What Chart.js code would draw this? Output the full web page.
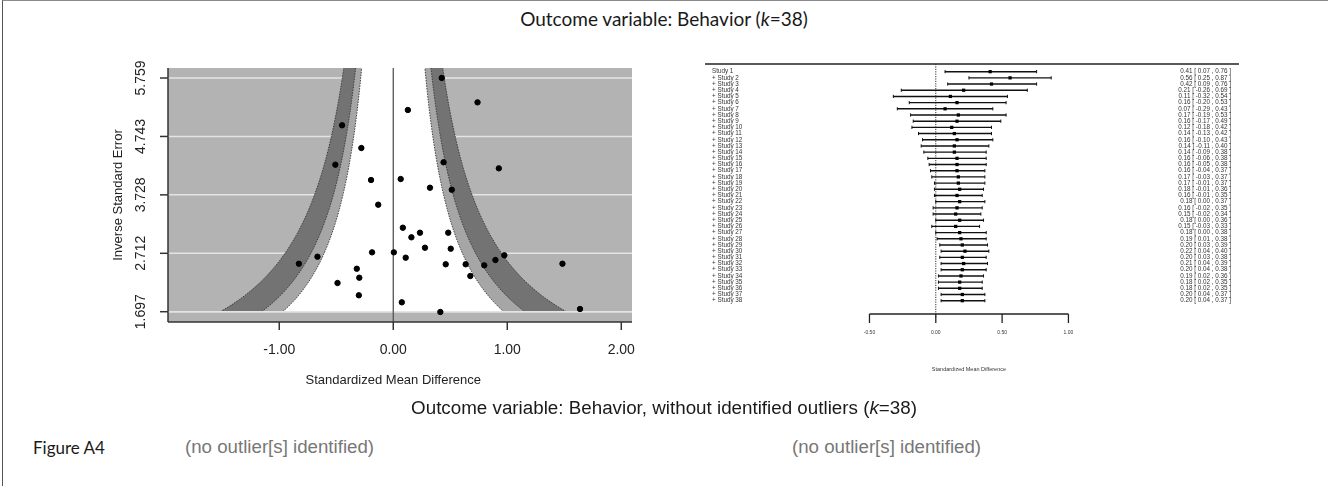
<!DOCTYPE html>
<html>
<head>
<meta charset="utf-8">
<script src="https://cdn.jsdelivr.net/npm/chart.js@4.4.1/dist/chart.umd.min.js"></script>
<style>
  html, body { margin: 0; padding: 0; background: #fff; }
  body { width: 1328px; height: 486px; position: relative; overflow: hidden; }
  .frame { position: absolute; left: 2px; top: 0; width: 1326px; height: 486px;
           border-top: 1px solid #8a8a8a; border-left: 1px solid #555; box-sizing: border-box; }
  .txt { position: absolute; white-space: nowrap; }
  #funnel { position: absolute; left: 0; top: 0; }
  #forest { position: absolute; left: 690px; top: 50px; }
</style>
</head>
<body>
<div class="frame"></div>
<div class="txt" style="left:664px; top:18px; transform:translate(-50%,-50%); font-family:Lato; font-size:19px; color:#1a1a1a;">Outcome variable: Behavior (<i>k</i>=38)</div>
<canvas id="funnel" width="680" height="400"></canvas>
<canvas id="forest" width="570" height="340"></canvas>
<div class="txt" style="left:664px; top:408px; transform:translate(-50%,-50%); font-family:'Liberation Sans'; font-size:18.8px; color:#1a1a1a;">Outcome variable: Behavior, without identified outliers (<i>k</i>=38)</div>
<div class="txt" style="left:33px; top:447px; transform:translateY(-50%); font-family:Lato; font-size:17px; color:#1a1a1a;">Figure A4</div>
<div class="txt" style="left:185px; top:447px; transform:translateY(-50%); font-family:'Liberation Sans'; font-size:18.7px; color:#777;">(no outlier[s] identified)</div>
<div class="txt" style="left:792px; top:447px; transform:translateY(-50%); font-family:'Liberation Sans'; font-size:18.7px; color:#777;">(no outlier[s] identified)</div>

<script>
// funnel plot data (standardized mean difference vs inverse standard error)
var funnelSMD = [0.425, 0.739, 0.128, -0.449, -0.280, -0.508, 0.441, 0.926, -0.195, 0.065,
                 0.322, 0.513, -0.132, 0.084, 0.234, 0.159, 0.482, 0.278, 0.504, -0.186,
                 0.005, 0.109, -0.665, -0.828, 0.460, 0.635, 0.798, 0.896, 0.974, 1.484,
                 -0.320, -0.298, -0.489, 0.676, -0.302, 0.075, 0.413, 1.638];
var funnelInvSE = [5.760, 5.336, 5.203, 4.937, 4.542, 4.252, 4.294, 4.189, 3.986, 4.003,
                   3.852, 3.817, 3.557, 3.157, 3.070, 2.990, 3.070, 2.809, 2.792, 2.729,
                   2.729, 2.636, 2.653, 2.531, 2.521, 2.521, 2.503, 2.596, 2.677, 2.531,
                   2.444, 2.288, 2.196, 2.318, 1.982, 1.860, 1.692, 1.744];
var funnelYTicks = [1.697, 2.712, 3.728, 4.743, 5.759];
var funnelXTicks = [-1, 0, 1, 2];
var funnelXLabels = ['-1.00', '0.00', '1.00', '2.00'];
var contourZ = [2.576, 1.96, 1.645];   // 99%, 95%, 90% contours

// cumulative forest plot
var forestEst = [0.41, 0.56, 0.42, 0.21, 0.11, 0.16, 0.07, 0.17, 0.16, 0.12,
                 0.14, 0.16, 0.14, 0.14, 0.16, 0.16, 0.16, 0.17, 0.17, 0.18,
                 0.16, 0.18, 0.16, 0.15, 0.18, 0.15, 0.18, 0.19, 0.20, 0.22,
                 0.20, 0.21, 0.20, 0.19, 0.18, 0.18, 0.20, 0.20];
var forestLo = [0.07, 0.25, 0.09, -0.26, -0.32, -0.20, -0.29, -0.19, -0.17, -0.18,
                -0.13, -0.10, -0.11, -0.09, -0.06, -0.05, -0.04, -0.03, -0.01, -0.01,
                -0.01, 0.00, -0.02, -0.02, 0.00, -0.03, 0.00, 0.01, 0.03, 0.04,
                0.03, 0.04, 0.04, 0.02, 0.02, 0.02, 0.04, 0.04];
var forestHi = [0.76, 0.87, 0.76, 0.69, 0.54, 0.53, 0.43, 0.53, 0.49, 0.42,
                0.42, 0.43, 0.40, 0.38, 0.38, 0.38, 0.37, 0.37, 0.37, 0.36,
                0.35, 0.37, 0.35, 0.34, 0.36, 0.33, 0.38, 0.38, 0.39, 0.40,
                0.38, 0.39, 0.38, 0.36, 0.35, 0.35, 0.37, 0.37];
var forestXTicks = [-0.5, 0, 0.5, 1];
var forestXLabels = ['-0.50', '0.00', '0.50', '1.00'];
var studyLabels = [];
for (var i = 0; i < forestEst.length; i++) {
  studyLabels.push(i === 0 ? 'Study 1' : '+ Study ' + (i + 1));
}

function line(ctx, x1, y1, x2, y2) {
  ctx.beginPath(); ctx.moveTo(x1, y1); ctx.lineTo(x2, y2); ctx.stroke();
}

var bandColors = ['#737373', '#a6a6a6', '#ffffff'];

var funnelPlugin = {
  id: 'funnelPlugin',
  beforeDatasetsDraw: function(chart) {
    var ctx = chart.ctx, a = chart.chartArea, x = chart.scales.x, y = chart.scales.y;
    ctx.save();
    ctx.fillStyle = '#b3b3b3';
    ctx.fillRect(a.left, a.top, a.width, a.height);
    ctx.strokeStyle = '#e4e4e4';
    ctx.lineWidth = 1.5;
    funnelYTicks.forEach(function(v) {
      var py = y.getPixelForValue(v);
      line(ctx, a.left, py, a.right, py);
    });
    ctx.beginPath(); ctx.rect(a.left, a.top, a.width, a.height); ctx.clip();
    var y0 = funnelYTicks[0], y1 = y.max, steps = 90;
    contourZ.forEach(function(z, k) {
      ctx.fillStyle = bandColors[k];
      ctx.beginPath();
      for (var s = 0; s <= steps; s++) {
        var v = y0 + (y1 - y0) * s / steps;
        ctx.lineTo(x.getPixelForValue(-z / v), y.getPixelForValue(v));
      }
      for (var s2 = steps; s2 >= 0; s2--) {
        var v2 = y0 + (y1 - y0) * s2 / steps;
        ctx.lineTo(x.getPixelForValue(z / v2), y.getPixelForValue(v2));
      }
      ctx.closePath();
      ctx.fill();
    });
    // contour edges
    ctx.strokeStyle = '#333';
    ctx.lineWidth = 0.9;
    ctx.setLineDash([1.5, 1.2]);
    contourZ.forEach(function(z) {
      [-1, 1].forEach(function(sg) {
        ctx.beginPath();
        for (var s = 0; s <= steps; s++) {
          var v = y0 + (y1 - y0) * s / steps;
          ctx.lineTo(x.getPixelForValue(sg * z / v), y.getPixelForValue(v));
        }
        ctx.stroke();
      });
    });
    ctx.setLineDash([]);
    ctx.strokeStyle = '#e4e4e4';
    ctx.lineWidth = 1.5;
    var pb = y.getPixelForValue(funnelYTicks[0]);
    line(ctx, a.left, pb, a.right, pb);
    // reference line
    ctx.strokeStyle = '#555';
    ctx.lineWidth = 1.3;
    var p0 = x.getPixelForValue(0);
    line(ctx, p0, a.top, p0, a.bottom);
    ctx.restore();
  },
  afterDraw: function(chart) {
    var ctx = chart.ctx, a = chart.chartArea, x = chart.scales.x, y = chart.scales.y;
    ctx.save();
    ctx.strokeStyle = '#333';
    ctx.lineWidth = 1.5;
    line(ctx, a.left, a.top, a.left, a.bottom);
    line(ctx, a.left, a.bottom, a.right, a.bottom);
    ctx.fillStyle = '#222';
    ctx.font = '14px "Liberation Sans"';
    ctx.textAlign = 'center';
    ctx.textBaseline = 'middle';
    funnelXTicks.forEach(function(v, k) {
      var px = x.getPixelForValue(v);
      line(ctx, px, a.bottom, px, a.bottom + 8);
      ctx.fillText(funnelXLabels[k], px, 350);
    });
    funnelYTicks.forEach(function(v) {
      var py = y.getPixelForValue(v);
      line(ctx, a.left, py, a.left - 8, py);
      ctx.save();
      ctx.translate(141, py);
      ctx.rotate(-Math.PI / 2);
      ctx.fillText(v.toFixed(3), 0, 0);
      ctx.restore();
    });
    ctx.font = '13px "Liberation Sans"';
    ctx.fillText('Standardized Mean Difference', x.getPixelForValue(0), 380);
    ctx.save();
    ctx.translate(118, (a.top + a.bottom) / 2);
    ctx.rotate(-Math.PI / 2);
    ctx.fillText('Inverse Standard Error', 0, 0);
    ctx.restore();
    ctx.restore();
  }
};

new Chart(document.getElementById('funnel'), {
  type: 'scatter',
  data: {
    datasets: [{
      data: funnelSMD.map(function(v, i) { return { x: v, y: funnelInvSE[i] }; }),
      backgroundColor: '#000',
      borderColor: '#000',
      pointRadius: 2.7,
      pointHoverRadius: 2.7
    }]
  },
  options: {
    responsive: false,
    animation: false,
    events: [],
    layout: { padding: { left: 168, top: 68, right: 48, bottom: 78 } },
    plugins: { legend: { display: false }, tooltip: { enabled: false } },
    scales: {
      x: { type: 'linear', display: false, min: -1.976, max: 2.094 },
      y: { type: 'linear', display: false, min: 1.518, max: 5.933 }
    }
  },
  plugins: [funnelPlugin]
});

var forestPlugin = {
  id: 'forestPlugin',
  beforeDatasetsDraw: function(chart) {
    var ctx = chart.ctx, a = chart.chartArea, x = chart.scales.x, y = chart.scales.y;
    ctx.save();
    ctx.strokeStyle = '#222';
    ctx.lineWidth = 1.6;
    line(ctx, a.left, a.top, a.right, a.top);
    // dotted null line
    ctx.lineWidth = 1;
    ctx.strokeStyle = '#333';
    ctx.setLineDash([1.2, 1.2]);
    var p0 = x.getPixelForValue(0);
    line(ctx, p0, a.top, p0, a.bottom + 4);
    ctx.setLineDash([]);
    // confidence intervals
    ctx.strokeStyle = '#111';
    ctx.lineWidth = 1.4;
    forestEst.forEach(function(v, i) {
      var py = y.getPixelForValue(i + 1);
      var pl = x.getPixelForValue(forestLo[i]), ph = x.getPixelForValue(forestHi[i]);
      line(ctx, pl, py, ph, py);
      ctx.lineWidth = 1;
      line(ctx, pl, py - 1.6, pl, py + 1.6);
      line(ctx, ph, py - 1.6, ph, py + 1.6);
      ctx.lineWidth = 1.4;
    });
    // axis
    ctx.lineWidth = 1.3;
    ctx.strokeStyle = '#222';
    var xl = x.getPixelForValue(forestXTicks[0]), xr = x.getPixelForValue(forestXTicks[forestXTicks.length - 1]);
    line(ctx, xl, a.bottom, xr, a.bottom);
    ctx.fillStyle = '#333';
    ctx.font = '5px "Liberation Sans"';
    ctx.textAlign = 'center';
    ctx.textBaseline = 'middle';
    forestXTicks.forEach(function(v, k) {
      var px = x.getPixelForValue(v);
      line(ctx, px, a.bottom, px, a.bottom + 9);
      ctx.fillText(forestXLabels[k], px, 283);
    });
    ctx.font = '5.5px "Liberation Sans"';
    ctx.fillText('Standardized Mean Difference', x.getPixelForValue(0.25), 319);
    // labels and numbers
    ctx.font = '6.3px "Liberation Sans"';
    ctx.fillStyle = '#333';
    forestEst.forEach(function(v, i) {
      var py = y.getPixelForValue(i + 1);
      ctx.textAlign = 'left';
      ctx.fillText(studyLabels[i], 22, py);
      ctx.textAlign = 'right';
      ctx.fillText(v.toFixed(2) + ' [ ' + forestLo[i].toFixed(2) + ' , ' + forestHi[i].toFixed(2) + ' ]', 541, py);
    });
    ctx.restore();
  }
};

new Chart(document.getElementById('forest'), {
  type: 'scatter',
  data: {
    datasets: [{
      data: forestEst.map(function(v, i) { return { x: v, y: i + 1 }; }),
      pointStyle: 'rect',
      backgroundColor: '#000',
      borderColor: '#000',
      borderWidth: 0,
      pointRadius: 2.3,
      pointHoverRadius: 2.3
    }]
  },
  options: {
    responsive: false,
    animation: false,
    events: [],
    layout: { padding: { left: 15, top: 14, right: 21, bottom: 76 } },
    plugins: { legend: { display: false }, tooltip: { enabled: false } },
    scales: {
      x: { type: 'linear', display: false, min: -1.740, max: 2.286 },
      y: { type: 'linear', display: false, reverse: true, min: -0.24, max: 40.15 }
    }
  },
  plugins: [forestPlugin]
});
</script>
</body>
</html>
